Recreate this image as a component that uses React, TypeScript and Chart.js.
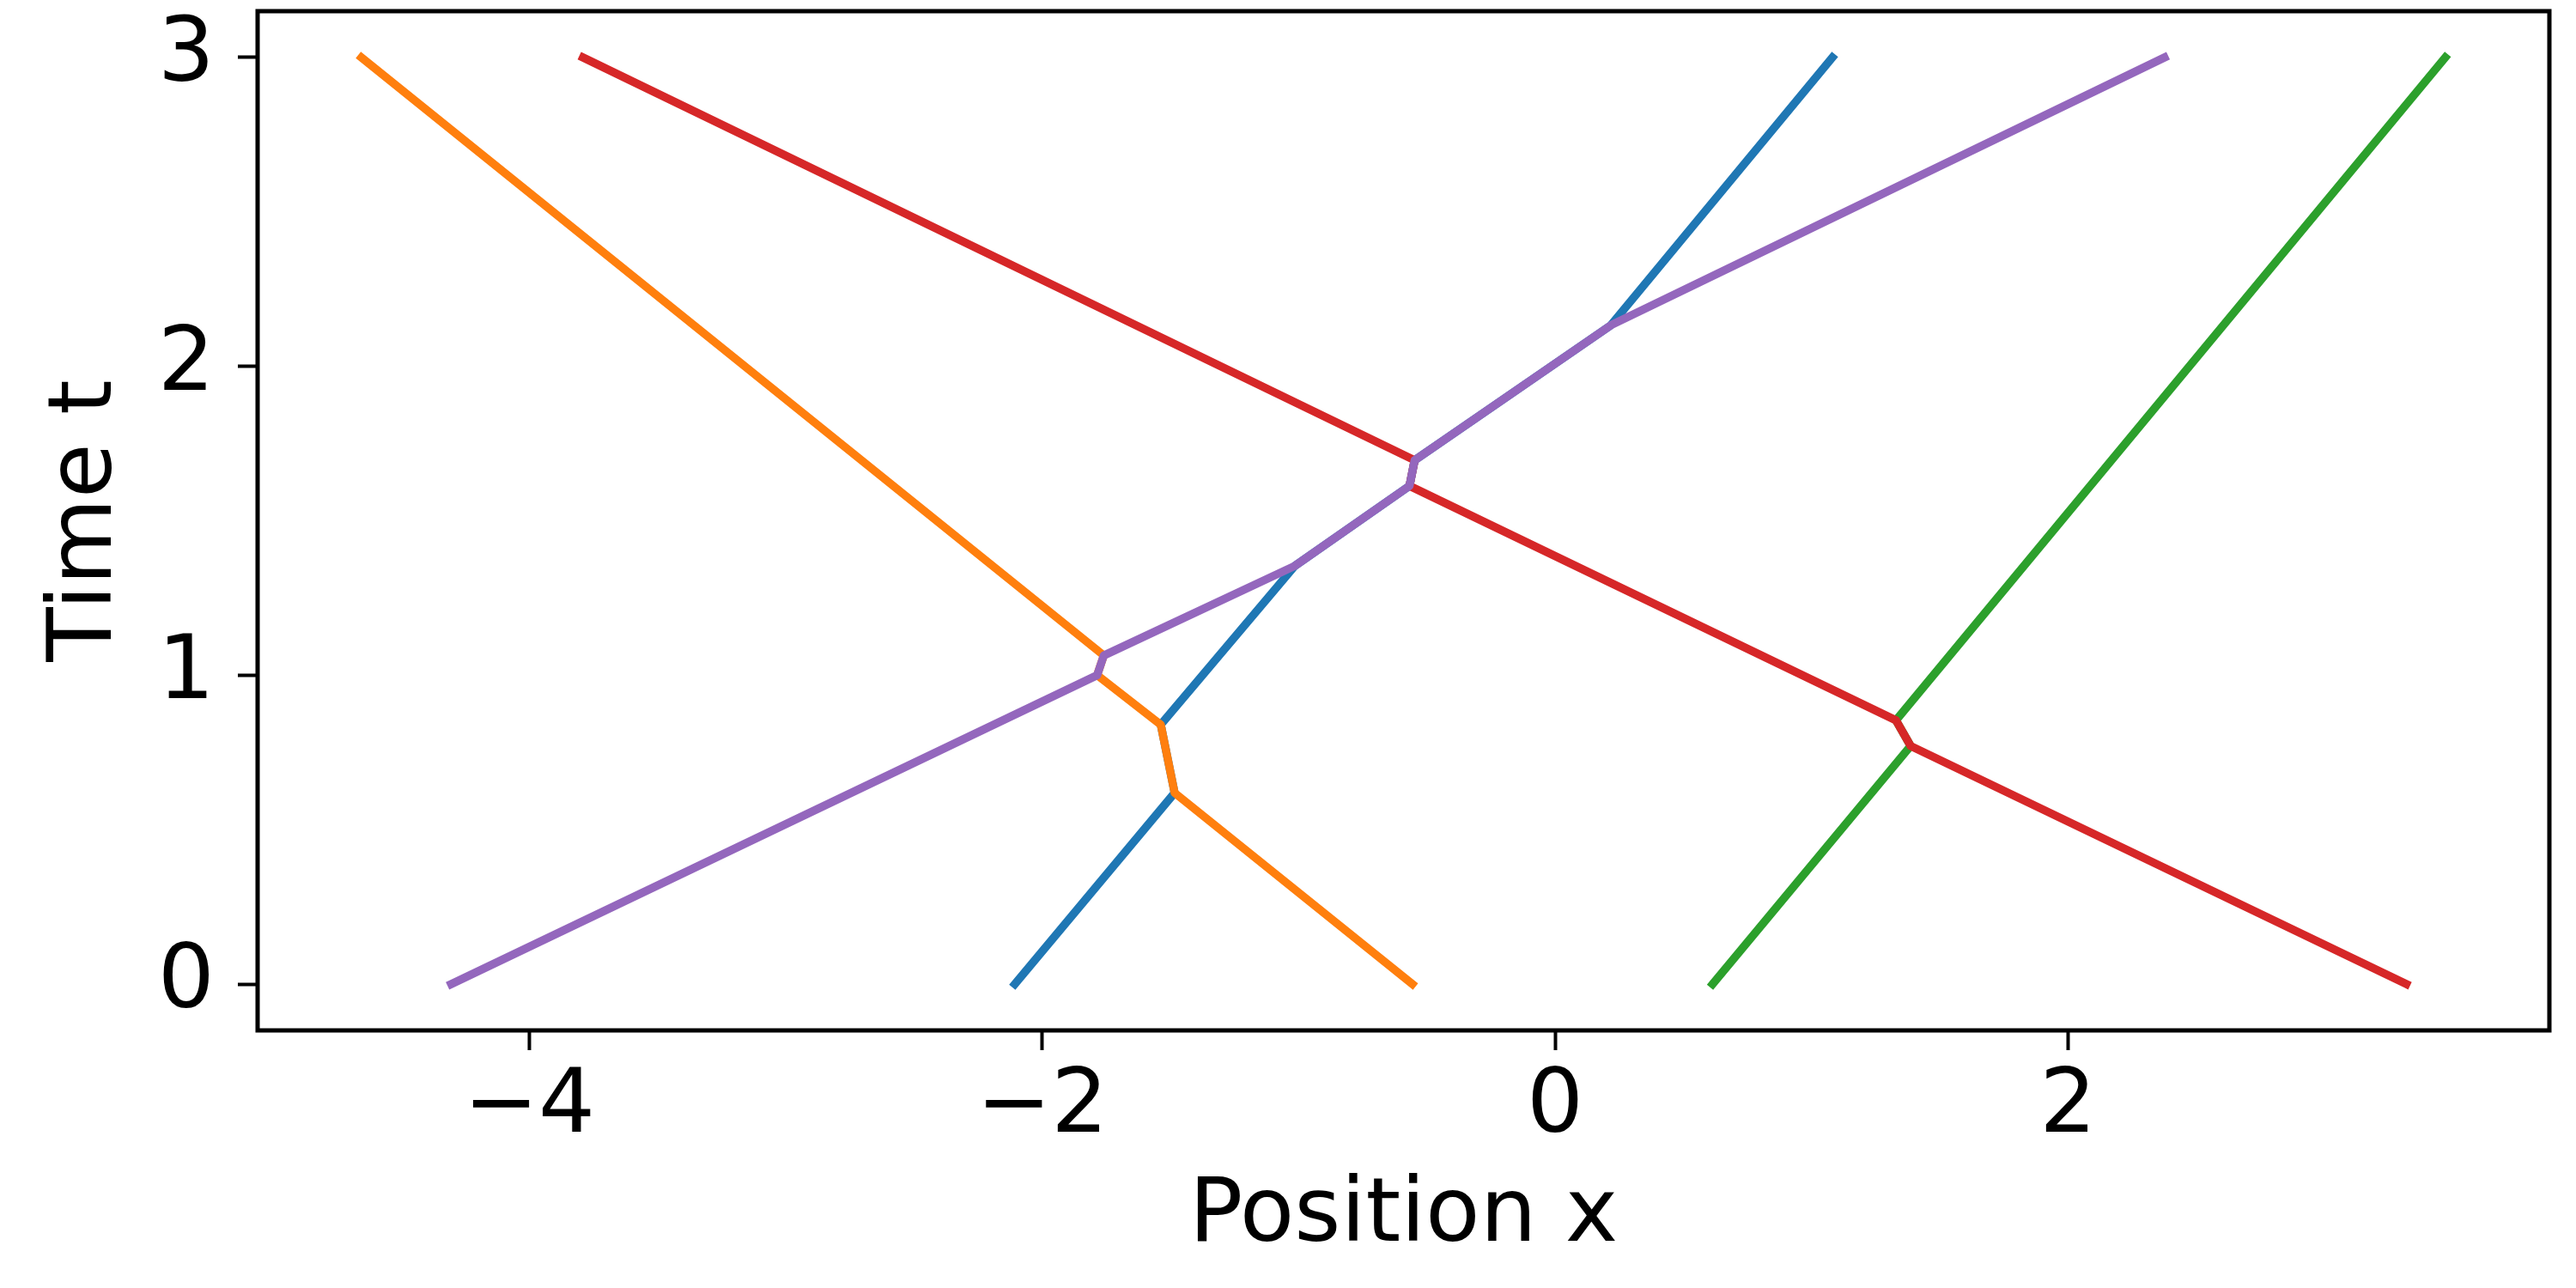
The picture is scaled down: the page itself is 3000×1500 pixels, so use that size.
import React, { useEffect, useRef } from 'react';
import { Chart, registerables } from 'chart.js';

Chart.register(...registerables);

// Trajectory vertices: position x and time t
const blueX = [-2.107, -1.484, -1.538, -1.015, -0.568, -0.548, 0.217, 1.081];
const blueT = [0, 0.619, 0.84, 1.354, 1.613, 1.696, 2.133, 3];

const orangeX = [-0.557, -1.484, -1.538, -1.786, -1.76, -4.655];
const orangeT = [0, 0.619, 0.84, 1.0, 1.064, 3];

const greenX = [0.614, 1.386, 1.329, 3.471];
const greenT = [0, 0.771, 0.854, 3];

const redX = [3.319, 1.386, 1.329, -0.568, -0.548, -3.791];
const redT = [0, 0.771, 0.854, 1.613, 1.696, 3];

const purpleX = [-4.305, -1.786, -1.76, -1.015, -0.568, -0.548, 0.217, 2.376];
const purpleT = [0, 1.0, 1.064, 1.354, 1.613, 1.696, 2.133, 3];

const xTicks = [-4, -2, 0, 2];
const yTicks = [0, 1, 2, 3];

const X_MIN = -5.06;
const X_MAX = 3.877;
const Y_MIN = -0.15;
const Y_MAX = 3.15;

const FONT = 'DejaVu Sans';

const toPts = (xs: number[], ts: number[]) => xs.map((x, i) => ({ x, y: ts[i] }));
const fmt = (v: number | string) => String(v).replace('-', '\u2212');

const framePlugin = {
  id: 'frame',
  afterDraw(chart: any) {
    const { ctx, chartArea: a } = chart;
    ctx.save();
    ctx.strokeStyle = '#000';
    ctx.lineWidth = 5;
    ctx.strokeRect(a.left, a.top, a.right - a.left, a.bottom - a.top);
    ctx.restore();
  },
};

export default function App() {
  const ref = useRef<HTMLCanvasElement>(null);
  useEffect(() => {
    const mk = (label: string, xs: number[], ts: number[], color: string, order: number) => ({
      label,
      data: toPts(xs, ts),
      borderColor: color,
      backgroundColor: color,
      borderWidth: 9.5,
      borderCapStyle: 'square' as const,
      borderJoinStyle: 'round' as const,
      pointRadius: 0,
      tension: 0,
      fill: false,
      order,
    });
    const chart = new Chart(ref.current!, {
      type: 'line',
      data: {
        datasets: [
          mk('blue', blueX, blueT, '#1f77b4', 5),
          mk('orange', orangeX, orangeT, '#ff7f0e', 4),
          mk('green', greenX, greenT, '#2ca02c', 3),
          mk('red', redX, redT, '#d62728', 2),
          mk('purple', purpleX, purpleT, '#9467bd', 1),
        ],
      },
      options: {
        responsive: false,
        animation: false,
        devicePixelRatio: 1,
        layout: { padding: { top: 13, right: 31, left: 0, bottom: 0 } },
        plugins: { legend: { display: false }, tooltip: { enabled: false } },
        scales: {
          x: {
            type: 'linear',
            min: X_MIN,
            max: X_MAX,
            afterBuildTicks: (s: any) => {
              s.ticks = xTicks.map((v) => ({ value: v }));
            },
            afterFit: (s: any) => {
              s.height = 300;
              s.paddingLeft = 0;
              s.paddingRight = 0;
            },
            ticks: {
              font: { family: FONT, size: 104 },
              color: '#000',
              padding: 6,
              maxRotation: 0,
              autoSkip: false,
              callback: (v: any) => fmt(v),
            },
            grid: {
              display: true,
              drawOnChartArea: false,
              drawTicks: true,
              tickLength: 23,
              tickWidth: 4,
              tickColor: '#000',
            },
            border: { display: false },
            title: {
              display: true,
              text: 'Position x',
              font: { family: FONT, size: 104 },
              color: '#000',
              padding: { top: 0, bottom: 20 },
            },
          },
          y: {
            type: 'linear',
            min: Y_MIN,
            max: Y_MAX,
            afterBuildTicks: (s: any) => {
              s.ticks = yTicks.map((v) => ({ value: v }));
            },
            afterFit: (s: any) => {
              s.width = 300;
              s.paddingTop = 0;
              s.paddingBottom = 0;
            },
            ticks: {
              font: { family: FONT, size: 104 },
              color: '#000',
              padding: 27,
              autoSkip: false,
              callback: (v: any) => fmt(v),
            },
            grid: {
              display: true,
              drawOnChartArea: false,
              drawTicks: true,
              tickLength: 23,
              tickWidth: 4,
              tickColor: '#000',
            },
            border: { display: false },
            title: {
              display: true,
              text: 'Time t',
              font: { family: FONT, size: 104 },
              color: '#000',
              padding: { top: 40, bottom: 0 },
            },
          },
        },
      },
      plugins: [framePlugin],
    });
    return () => chart.destroy();
  }, []);
  return (
    <div style={{ position: 'absolute', left: 0, top: 0, width: 3000, height: 1500, background: '#fff' }}>
      <canvas ref={ref} width={3000} height={1500} style={{ display: 'block' }} />
    </div>
  );
}
